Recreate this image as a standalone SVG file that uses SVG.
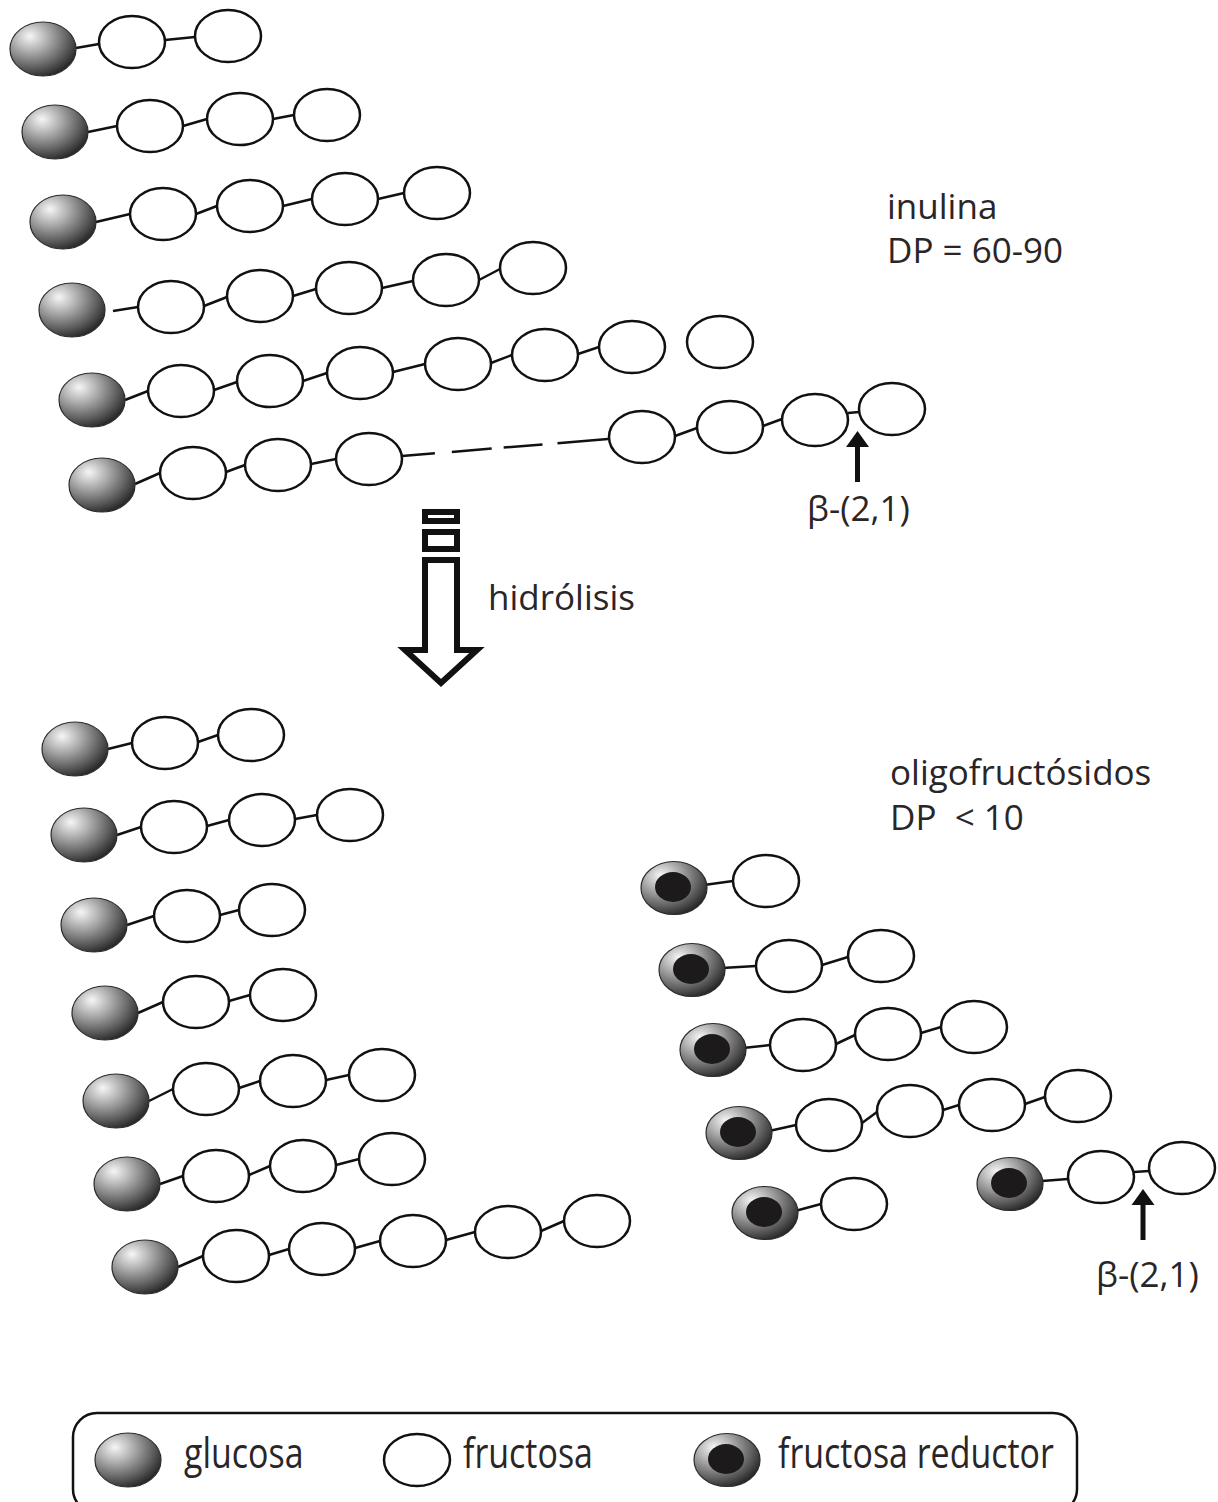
<svg xmlns="http://www.w3.org/2000/svg" xmlns:xlink="http://www.w3.org/1999/xlink" width="1218" height="1502" viewBox="0 0 1218 1502">
  <style>
    .fru { fill: #ffffff; stroke: #111111; stroke-width: 2.5; }
    .glc { fill: url(#sphere); stroke: #2b2b2b; stroke-width: 1.2; }
    .core { fill: #1c1a1b; }
    .link line, .link path { stroke: #111111; stroke-width: 2.5; fill: none; }
    .lbl { font-family: "Open Sans", "Noto Sans", "Liberation Sans", sans-serif; font-size: 35px; font-weight: 400; fill: #2a2627; }
    .thick { fill: #ffffff; stroke: #111111; stroke-width: 6; stroke-linejoin: miter; }
  </style>
  <defs>
    <radialGradient id="sphere" cx="0.33" cy="0.3" r="0.78" fx="0.3" fy="0.26">
      <stop offset="0" stop-color="#f6f6f6"/>
      <stop offset="0.3" stop-color="#b8b8b8"/>
      <stop offset="0.7" stop-color="#626262"/>
      <stop offset="1" stop-color="#1e1e1e"/>
    </radialGradient>
    <ellipse id="fructose" class="fru" cx="0" cy="0" rx="33" ry="26"/>
    <ellipse id="glucose" class="glc" cx="0" cy="0" rx="33" ry="27"/>
    <g id="reducing">
      <ellipse class="glc" cx="0" cy="0" rx="33" ry="26.5"/>
      <ellipse class="core" cx="-1" cy="-1" rx="18" ry="15"/>
    </g>
  </defs>

  <rect width="1218" height="1502" fill="#ffffff"/>

  <!-- glycosidic links -->
  <g id="connectors" class="link">
    <!-- inulin chains -->
    <line x1="76" y1="48" x2="99" y2="44"/>
    <line x1="165" y1="40" x2="195" y2="37"/>
    <line x1="88" y1="132" x2="117" y2="126"/>
    <line x1="183" y1="126" x2="207" y2="119"/>
    <line x1="273" y1="119" x2="294" y2="115"/>
    <line x1="96" y1="222" x2="130" y2="214"/>
    <line x1="196" y1="214" x2="217" y2="206"/>
    <line x1="283" y1="206" x2="312" y2="199"/>
    <line x1="378" y1="199" x2="404" y2="193"/>
    <line x1="113" y1="311" x2="138" y2="307"/>
    <line x1="204" y1="306" x2="227" y2="297"/>
    <line x1="293" y1="296" x2="316" y2="289"/>
    <line x1="382" y1="288" x2="413" y2="281"/>
    <line x1="479" y1="280" x2="500" y2="269"/>
    <line x1="125" y1="400" x2="148" y2="391"/>
    <line x1="214" y1="390" x2="237" y2="382"/>
    <line x1="303" y1="381" x2="327" y2="373"/>
    <line x1="393" y1="372" x2="425" y2="364"/>
    <line x1="491" y1="363" x2="512" y2="355"/>
    <line x1="578" y1="354" x2="599" y2="347"/>
    <line x1="135" y1="484" x2="160" y2="473"/>
    <line x1="226" y1="472" x2="245" y2="465"/>
    <line x1="311" y1="464" x2="336" y2="459"/>
    <line x1="402" y1="456" x2="608" y2="439" stroke-dasharray="33 17 40 12 39 15 60"/>
    <line x1="675" y1="436" x2="697" y2="428"/>
    <line x1="763" y1="426" x2="782" y2="419"/>
    <line x1="848" y1="413" x2="859" y2="412"/>
    <!-- hydrolysis products: glucose-terminated -->
    <line x1="108" y1="749" x2="132" y2="743"/>
    <line x1="198" y1="742" x2="218" y2="735"/>
    <line x1="117" y1="835" x2="141" y2="827"/>
    <line x1="207" y1="826" x2="229" y2="820"/>
    <line x1="295" y1="819" x2="317" y2="815"/>
    <line x1="127" y1="925" x2="154" y2="916"/>
    <line x1="220" y1="915" x2="239" y2="910"/>
    <line x1="138" y1="1013" x2="163" y2="1002"/>
    <line x1="229" y1="1001" x2="250" y2="995"/>
    <line x1="149" y1="1101" x2="173" y2="1089"/>
    <line x1="239" y1="1088" x2="260" y2="1081"/>
    <line x1="326" y1="1080" x2="349" y2="1075"/>
    <line x1="160" y1="1184" x2="183" y2="1176"/>
    <line x1="249" y1="1175" x2="270" y2="1166"/>
    <line x1="336" y1="1165" x2="359" y2="1159"/>
    <line x1="178" y1="1267" x2="203" y2="1256"/>
    <line x1="269" y1="1255" x2="289" y2="1249"/>
    <line x1="355" y1="1248" x2="380" y2="1241"/>
    <line x1="446" y1="1240" x2="475" y2="1232"/>
    <line x1="541" y1="1231" x2="564" y2="1221"/>
    <!-- hydrolysis products: reducing fructose-terminated -->
    <line x1="704" y1="885" x2="733" y2="881"/>
    <line x1="722" y1="968" x2="756" y2="966"/>
    <line x1="822" y1="965" x2="848" y2="957"/>
    <line x1="743" y1="1048" x2="770" y2="1045"/>
    <line x1="836" y1="1044" x2="855" y2="1035"/>
    <line x1="921" y1="1033" x2="941" y2="1027"/>
    <line x1="769" y1="1131" x2="796" y2="1125"/>
    <line x1="862" y1="1123" x2="877" y2="1112"/>
    <line x1="943" y1="1110" x2="959" y2="1105"/>
    <line x1="1025" y1="1104" x2="1045" y2="1097"/>
    <line x1="795" y1="1211" x2="821" y2="1204"/>
    <line x1="1042" y1="1181" x2="1068" y2="1179"/>
    <line x1="1134" y1="1172" x2="1149" y2="1171"/>
  </g>

  <!-- inulin, DP 60-90 -->
  <g id="inulin">
    <g id="i1-g"><use xlink:href="#glucose" x="43" y="49"/></g>
    <g id="i1-f1"><use xlink:href="#fructose" x="132" y="42"/></g>
    <g id="i1-f2"><use xlink:href="#fructose" x="228" y="36"/></g>

    <g id="i2-g"><use xlink:href="#glucose" x="55" y="132"/></g>
    <g id="i2-f1"><use xlink:href="#fructose" x="150" y="126"/></g>
    <g id="i2-f2"><use xlink:href="#fructose" x="240" y="119"/></g>
    <g id="i2-f3"><use xlink:href="#fructose" x="327" y="115"/></g>

    <g id="i3-g"><use xlink:href="#glucose" x="63" y="222"/></g>
    <g id="i3-f1"><use xlink:href="#fructose" x="163" y="214"/></g>
    <g id="i3-f2"><use xlink:href="#fructose" x="250" y="206"/></g>
    <g id="i3-f3"><use xlink:href="#fructose" x="345" y="199"/></g>
    <g id="i3-f4"><use xlink:href="#fructose" x="437" y="193"/></g>

    <g id="i4-g"><use xlink:href="#glucose" x="72" y="310"/></g>
    <g id="i4-f1"><use xlink:href="#fructose" x="171" y="307"/></g>
    <g id="i4-f2"><use xlink:href="#fructose" x="260" y="296"/></g>
    <g id="i4-f3"><use xlink:href="#fructose" x="349" y="288"/></g>
    <g id="i4-f4"><use xlink:href="#fructose" x="446" y="280"/></g>
    <g id="i4-f5"><use xlink:href="#fructose" x="533" y="268"/></g>

    <g id="i5-g"><use xlink:href="#glucose" x="92" y="400"/></g>
    <g id="i5-f1"><use xlink:href="#fructose" x="181" y="391"/></g>
    <g id="i5-f2"><use xlink:href="#fructose" x="270" y="381"/></g>
    <g id="i5-f3"><use xlink:href="#fructose" x="360" y="373"/></g>
    <g id="i5-f4"><use xlink:href="#fructose" x="458" y="364"/></g>
    <g id="i5-f5"><use xlink:href="#fructose" x="545" y="355"/></g>
    <g id="i5-f6"><use xlink:href="#fructose" x="632" y="347"/></g>
    <g id="i5-f7"><use xlink:href="#fructose" x="720" y="342"/></g>

    <g id="i6-g"><use xlink:href="#glucose" x="102" y="485"/></g>
    <g id="i6-f1"><use xlink:href="#fructose" x="193" y="473"/></g>
    <g id="i6-f2"><use xlink:href="#fructose" x="278" y="465"/></g>
    <g id="i6-f3"><use xlink:href="#fructose" x="369" y="459"/></g>
    <g id="i6-f4"><use xlink:href="#fructose" x="642" y="437"/></g>
    <g id="i6-f5"><use xlink:href="#fructose" x="730" y="427"/></g>
    <g id="i6-f6"><use xlink:href="#fructose" x="815" y="420"/></g>
    <g id="i6-f7"><use xlink:href="#fructose" x="892" y="409"/></g>
  </g>

  <!-- oligofructosides with terminal glucose -->
  <g id="oligo-glucose">
    <g id="a-g"><use xlink:href="#glucose" x="75" y="749"/></g>
    <g id="a-f1"><use xlink:href="#fructose" x="165" y="743"/></g>
    <g id="a-f2"><use xlink:href="#fructose" x="251" y="735"/></g>

    <g id="b-g"><use xlink:href="#glucose" x="84" y="835"/></g>
    <g id="b-f1"><use xlink:href="#fructose" x="174" y="827"/></g>
    <g id="b-f2"><use xlink:href="#fructose" x="262" y="820"/></g>
    <g id="b-f3"><use xlink:href="#fructose" x="350" y="815"/></g>

    <g id="c-g"><use xlink:href="#glucose" x="94" y="925"/></g>
    <g id="c-f1"><use xlink:href="#fructose" x="187" y="916"/></g>
    <g id="c-f2"><use xlink:href="#fructose" x="272" y="910"/></g>

    <g id="d-g"><use xlink:href="#glucose" x="105" y="1013"/></g>
    <g id="d-f1"><use xlink:href="#fructose" x="196" y="1002"/></g>
    <g id="d-f2"><use xlink:href="#fructose" x="283" y="995"/></g>

    <g id="e-g"><use xlink:href="#glucose" x="116" y="1101"/></g>
    <g id="e-f1"><use xlink:href="#fructose" x="206" y="1089"/></g>
    <g id="e-f2"><use xlink:href="#fructose" x="293" y="1081"/></g>
    <g id="e-f3"><use xlink:href="#fructose" x="382" y="1075"/></g>

    <g id="f-g"><use xlink:href="#glucose" x="127" y="1184"/></g>
    <g id="f-f1"><use xlink:href="#fructose" x="216" y="1176"/></g>
    <g id="f-f2"><use xlink:href="#fructose" x="303" y="1166"/></g>
    <g id="f-f3"><use xlink:href="#fructose" x="392" y="1159"/></g>

    <g id="h-g"><use xlink:href="#glucose" x="145" y="1267"/></g>
    <g id="h-f1"><use xlink:href="#fructose" x="236" y="1256"/></g>
    <g id="h-f2"><use xlink:href="#fructose" x="322" y="1249"/></g>
    <g id="h-f3"><use xlink:href="#fructose" x="413" y="1241"/></g>
    <g id="h-f4"><use xlink:href="#fructose" x="508" y="1232"/></g>
    <g id="h-f5"><use xlink:href="#fructose" x="597" y="1221"/></g>
  </g>

  <!-- oligofructosides with reducing fructose end -->
  <g id="oligo-reducing">
    <g id="r1-r"><use xlink:href="#reducing" x="674" y="888"/></g>
    <g id="r1-f1"><use xlink:href="#fructose" x="766" y="881"/></g>

    <g id="r2-r"><use xlink:href="#reducing" x="692" y="970"/></g>
    <g id="r2-f1"><use xlink:href="#fructose" x="789" y="966"/></g>
    <g id="r2-f2"><use xlink:href="#fructose" x="881" y="956"/></g>

    <g id="r3-r"><use xlink:href="#reducing" x="713" y="1050"/></g>
    <g id="r3-f1"><use xlink:href="#fructose" x="803" y="1045"/></g>
    <g id="r3-f2"><use xlink:href="#fructose" x="888" y="1034"/></g>
    <g id="r3-f3"><use xlink:href="#fructose" x="974" y="1027"/></g>

    <g id="r4-r"><use xlink:href="#reducing" x="739" y="1133"/></g>
    <g id="r4-f1"><use xlink:href="#fructose" x="829" y="1125"/></g>
    <g id="r4-f2"><use xlink:href="#fructose" x="910" y="1111"/></g>
    <g id="r4-f3"><use xlink:href="#fructose" x="992" y="1105"/></g>
    <g id="r4-f4"><use xlink:href="#fructose" x="1078" y="1096"/></g>

    <g id="r5-r"><use xlink:href="#reducing" x="765" y="1213"/></g>
    <g id="r5-f1"><use xlink:href="#fructose" x="854" y="1204"/></g>

    <g id="r6-r"><use xlink:href="#reducing" x="1010" y="1184"/></g>
    <g id="r6-f1"><use xlink:href="#fructose" x="1101" y="1177"/></g>
    <g id="r6-f2"><use xlink:href="#fructose" x="1182" y="1168"/></g>
  </g>

  <!-- bond pointers -->
  <g id="bond-pointers" fill="#111111">
    <rect x="855" y="444" width="5" height="38"/>
    <polygon points="857.5,431 869,447 846,447"/>
    <rect x="1140.5" y="1201" width="5" height="39"/>
    <polygon points="1143,1189 1154.5,1205 1131.5,1205"/>
  </g>

  <!-- hydrolysis arrow -->
  <g id="hydrolysis-arrow" class="thick">
    <rect x="425" y="512" width="32" height="9"/>
    <rect x="425" y="532" width="32" height="17"/>
    <polygon points="425,560 457,560 457,650 477,650 441,683 405,650 425,650"/>
  </g>

  <!-- labels -->
  <g id="labels" class="lbl">
    <text x="887" y="219">inulina</text>
    <text x="887" y="263">DP = 60-90</text>
    <text x="807" y="521">β-(2,1)</text>
    <text x="488" y="610">hidrólisis</text>
    <text x="890" y="785">oligofructósidos</text>
    <text x="890" y="830" xml:space="preserve">DP  &lt; 10</text>
    <text x="1096" y="1287">β-(2,1)</text>
  </g>

  <!-- key -->
  <g id="legend">
    <rect x="73" y="1413" width="1004" height="100" rx="24" ry="24" fill="none" stroke="#111111" stroke-width="2.5"/>
    <g id="key-glucose"><use xlink:href="#glucose" x="128" y="1460"/></g>
    <g id="key-fructose"><use xlink:href="#fructose" x="417" y="1460"/></g>
    <g id="key-reducing"><use xlink:href="#reducing" x="727" y="1460"/></g>
    <g class="lbl">
      <text transform="translate(184,1468) scale(0.97,1.22)">glucosa</text>
      <text transform="translate(463,1468) scale(0.97,1.22)">fructosa</text>
      <text transform="translate(778,1468) scale(0.97,1.22)">fructosa reductor</text>
    </g>
  </g>
</svg>
